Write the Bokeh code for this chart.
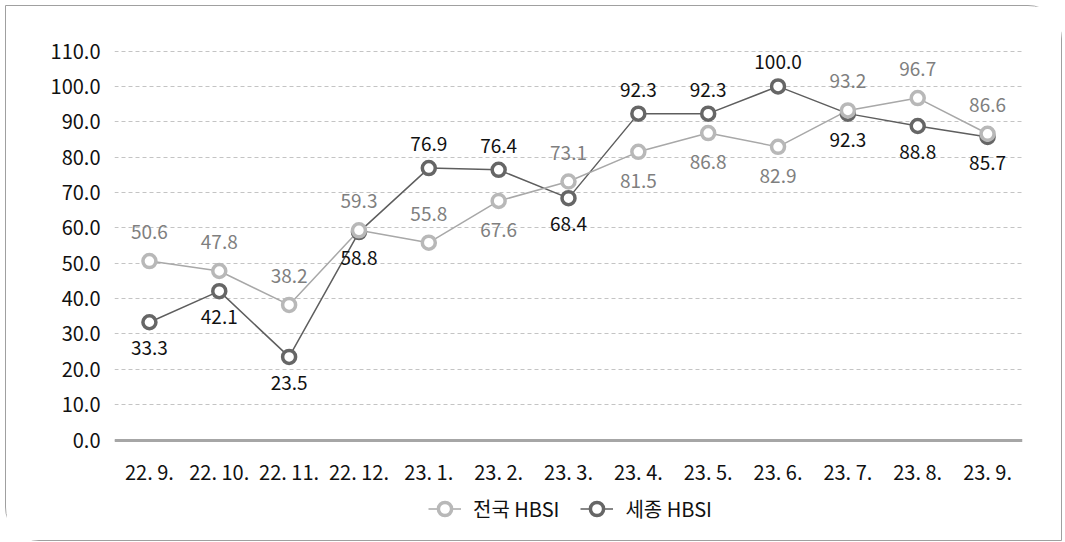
from bokeh.plotting import figure
from bokeh.models import (ColumnDataSource, FactorRange, Range1d, FixedTicker,
                          NumeralTickFormatter, Legend, LegendItem)
from bokeh.core.properties import value
from bokeh.embed import file_html
from bokeh.resources import INLINE

# ---- data ----
months = ["22. 9.", "22. 10.", "22. 11.", "22. 12.", "23. 1.", "23. 2.", "23. 3.",
          "23. 4.", "23. 5.", "23. 6.", "23. 7.", "23. 8.", "23. 9."]
national_hbsi = [50.6, 47.8, 38.2, 59.3, 55.8, 67.6, 73.1, 81.5, 86.8, 82.9, 93.2, 96.7, 86.6]
sejong_hbsi = [33.3, 42.1, 23.5, 58.8, 76.9, 76.4, 68.4, 92.3, 92.3, 100.0, 92.3, 88.8, 85.7]
national_label_side = ["above", "above", "above", "above", "above", "below", "above",
                       "below", "below", "below", "above", "above", "above"]
sejong_label_side = ["below", "below", "below", "below", "above", "above", "below",
                     "above", "above", "above", "below", "below", "below"]
y_ticks = list(range(0, 111, 10))
series_names = ["전국 HBSI", "세종 HBSI"]

FONT = "Noto Sans CJK KR"
NAT_LINE = "#a8a8a8"
NAT_MARK = "#b8b8b8"
NAT_TEXT = "#7f7f7f"
SEJ_LINE = "#5e5e5e"
SEJ_MARK = "#666666"
SEJ_TEXT = "#111111"


def offsets(sides, up, down):
    return [-up if s == "above" else down for s in sides]


nat_src = ColumnDataSource(dict(
    x=months, y=national_hbsi,
    lbl=[f"{v:.1f}" for v in national_hbsi],
    off=offsets(national_label_side, 29, 29)))
sej_src = ColumnDataSource(dict(
    x=months, y=sejong_hbsi,
    lbl=[f"{v:.1f}" for v in sejong_hbsi],
    off=offsets(sejong_label_side, 24, 26)))

p = figure(width=1057, height=536, x_range=FactorRange(*months),
           y_range=Range1d(-27, 111), output_backend="svg", toolbar_location=None,
           min_border_left=108, min_border_right=41, min_border_top=41,
           min_border_bottom=7)
p.styles = {"border": "1.5px solid #a0a0a0", "border-radius": "0px 34px 0px 34px",
            "margin-left": "5px", "margin-top": "5px"}
p.outline_line_color = None
p.background_fill_color = "white"
p.border_fill_color = "white"
p.x_range.range_padding = 0

# grid
p.xgrid.grid_line_color = None
p.ygrid.ticker = FixedTicker(ticks=y_ticks)
p.ygrid.grid_line_color = "#c4c4c4"
p.ygrid.grid_line_dash = "4 3"
p.ygrid.grid_line_width = 1

# y axis
p.yaxis.ticker = FixedTicker(ticks=y_ticks)
p.yaxis.formatter = NumeralTickFormatter(format="0.0")
p.yaxis.axis_line_color = None
p.yaxis.major_tick_line_color = None
p.yaxis.minor_tick_line_color = None
p.yaxis.major_tick_out = 0
p.yaxis.major_label_standoff = 14
p.yaxis.major_label_text_font = FONT
p.yaxis.major_label_text_font_size = "20px"
p.yaxis.major_label_text_color = "#111111"

# x axis (sits on the value 0 inside the frame)
p.xaxis.fixed_location = 0
p.xaxis.axis_line_color = "#a6a6a6"
p.xaxis.axis_line_width = 3
p.xaxis.major_tick_line_color = None
p.xaxis.minor_tick_line_color = None
p.xaxis.major_tick_out = 0
p.xaxis.major_label_standoff = 17
p.xaxis.major_label_text_font = FONT
p.xaxis.major_label_text_font_size = "20px"
p.xaxis.major_label_text_color = "#111111"

# lines
sej_line = p.line("x", "y", source=sej_src, line_color=SEJ_LINE, line_width=1.5)
nat_line = p.line("x", "y", source=nat_src, line_color=NAT_LINE, line_width=1.5)
# markers
sej_mark = p.scatter("x", "y", source=sej_src, marker="circle", size=13,
                     fill_color="white", line_color=SEJ_MARK, line_width=3.5)
nat_mark = p.scatter("x", "y", source=nat_src, marker="circle", size=13,
                     fill_color="white", line_color=NAT_MARK, line_width=3.5)

# data labels
p.text("x", "y", text="lbl", y_offset="off", source=nat_src, text_align="center",
       text_baseline="middle", text_font=value(FONT), text_font_size="19px",
       text_color=NAT_TEXT)
p.text("x", "y", text="lbl", y_offset="off", source=sej_src, text_align="center",
       text_baseline="middle", text_font=value(FONT), text_font_size="19px",
       text_color=SEJ_TEXT)

legend = Legend(items=[LegendItem(label=series_names[0], renderers=[nat_line, nat_mark]),
                       LegendItem(label=series_names[1], renderers=[sej_line, sej_mark])],
                location=(314, 10), orientation="horizontal")
legend.border_line_color = None
legend.background_fill_alpha = 0
legend.padding = 0
legend.margin = 0
legend.spacing = 21
legend.label_standoff = 12
legend.glyph_width = 33
legend.glyph_height = 33
legend.label_height = 20
legend.label_text_font = FONT
legend.label_text_font_size = "20px"
legend.label_text_color = "#111111"
p.add_layout(legend, "center")

open("out.html", "w").write(file_html(p, INLINE))
